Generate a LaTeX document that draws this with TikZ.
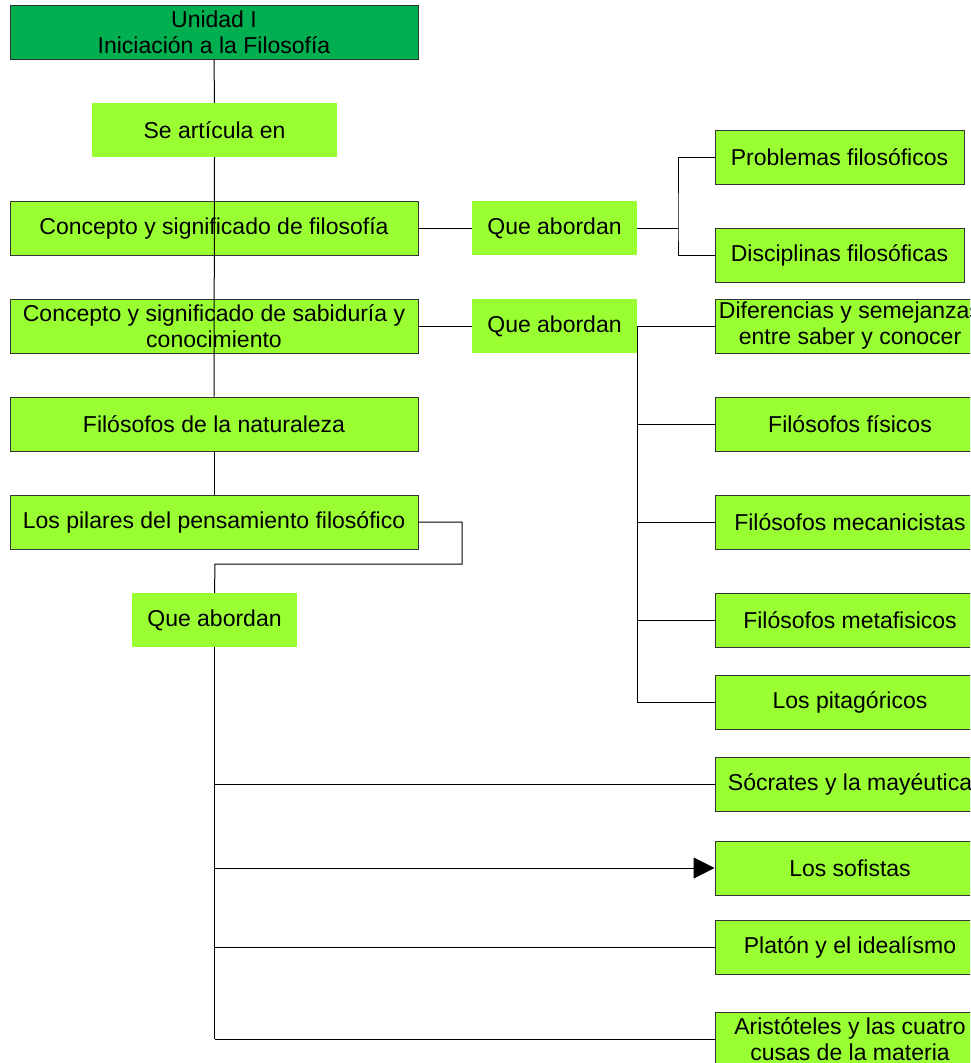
\documentclass[tikz,border=0pt]{standalone}
\usepackage{fontspec}
\setmainfont{Liberation Sans}
\usetikzlibrary{arrows.meta}
\definecolor{lg}{HTML}{99FF33}
\definecolor{dg}{HTML}{00B050}
\definecolor{bd}{HTML}{333333}
\tikzset{
  base/.style={inner sep=0pt, align=center, minimum height=54pt,
    font=\fontsize{23}{26}\selectfont},
  box/.style={base, draw=bd, line width=1pt, fill=lg},
  flat/.style={base, fill=lg},
  conn/.style={draw=black, line width=1pt},
}
\begin{document}
\begin{tikzpicture}[x=1pt, y=-1pt]
\useasboundingbox (0,0) rectangle (970,1063);
\clip (0,0) rectangle (970,1063);
\fill[white] (0,0) rectangle (970,1063);
% left column
\node[box, fill=dg, minimum width=408pt] (title) at (214,32) {Unidad I\\Iniciación a la Filosofía};
\node[flat, minimum width=245pt] (se) at (214.5,130) {Se artícula en};
\node[box, minimum width=408pt] (c1) at (214,228) {Concepto y significado de filosofía};
\node[box, minimum width=408pt] (c2) at (214,326) {Concepto y significado de sabiduría y\\conocimiento};
\node[box, minimum width=408pt] (c3) at (214,424) {Filósofos de la naturaleza};
\node[box, minimum width=408pt] (c4) at (214,522) {Los pilares del pensamiento filosófico};
\node[flat, minimum width=165pt] (qa3) at (214.5,620) {Que abordan};
% middle
\node[flat, minimum width=165pt] (qa1) at (554.5,228) {Que abordan};
\node[flat, minimum width=165pt] (qa2) at (554.5,326) {Que abordan};
% right column
\node[box, minimum width=249pt] (r1) at (839.5,157) {Problemas filosóficos};
\node[box, minimum width=249pt] (r2) at (839.5,255) {Disciplinas filosóficas};
\node[box, minimum width=270pt] (r3) at (850,326) {Diferencias y semejanzas\\entre saber y conocer};
\node[box, minimum width=270pt] (r4) at (850,424) {Filósofos físicos};
\node[box, minimum width=270pt] (r5) at (850,522) {Filósofos mecanicistas};
\node[box, minimum width=270pt] (r6) at (850,620) {Filósofos metafisicos};
\node[box, minimum width=270pt] (r7) at (850,702) {Los pitagóricos};
\node[box, minimum width=270pt] (r8) at (850,784) {Sócrates y la mayéutica};
\node[box, minimum width=270pt] (r9) at (850,868) {Los sofistas};
\node[box, minimum width=270pt] (r10) at (850,947) {Platón y el idealísmo};
\node[box, minimum width=270pt] (r11) at (850,1039) {Aristóteles y las cuatro\\cusas de la materia};
% connectors
\coordinate (j1) at (678,228);
\coordinate (k1) at (462,522);
\coordinate (k2) at (215,564);
\draw[conn] (title.south) -- (se.north);
\draw[conn] (se.south) -- (c3.north);
\draw[conn] (c3.south) -- (c4.north);
\draw[conn] (c1.east) -- (qa1.west);
\draw[conn] (qa1.east) -- (j1);
\draw[conn] (r1.west) -| (j1) |- (r2.west);
\draw[conn] (c2.east) -- (qa2.west);
\draw[conn] (qa2.east) -- (r3.west);
\draw[conn] (qa2.east) |- (r7.west);
\draw[conn] (qa2.east |- r4.west) -- (r4.west);
\draw[conn] (qa2.east |- r5.west) -- (r5.west);
\draw[conn] (qa2.east |- r6.west) -- (r6.west);
\draw[conn] (c4.east) -- (k1) |- (k2) -- (qa3.north);
\draw[conn, line width=1.6pt] (qa3.south) -- (qa3.south |- r11.west);
\draw[conn] (qa3.south |- r11.west) -- (r11.west);
\draw[conn] (qa3.south |- r8.west) -- (r8.west);
\draw[conn, -{Triangle[length=21pt,width=21pt]}] (qa3.south |- r9.west) -- (r9.west);
\draw[conn] (qa3.south |- r10.west) -- (r10.west);
\end{tikzpicture}
\end{document}
